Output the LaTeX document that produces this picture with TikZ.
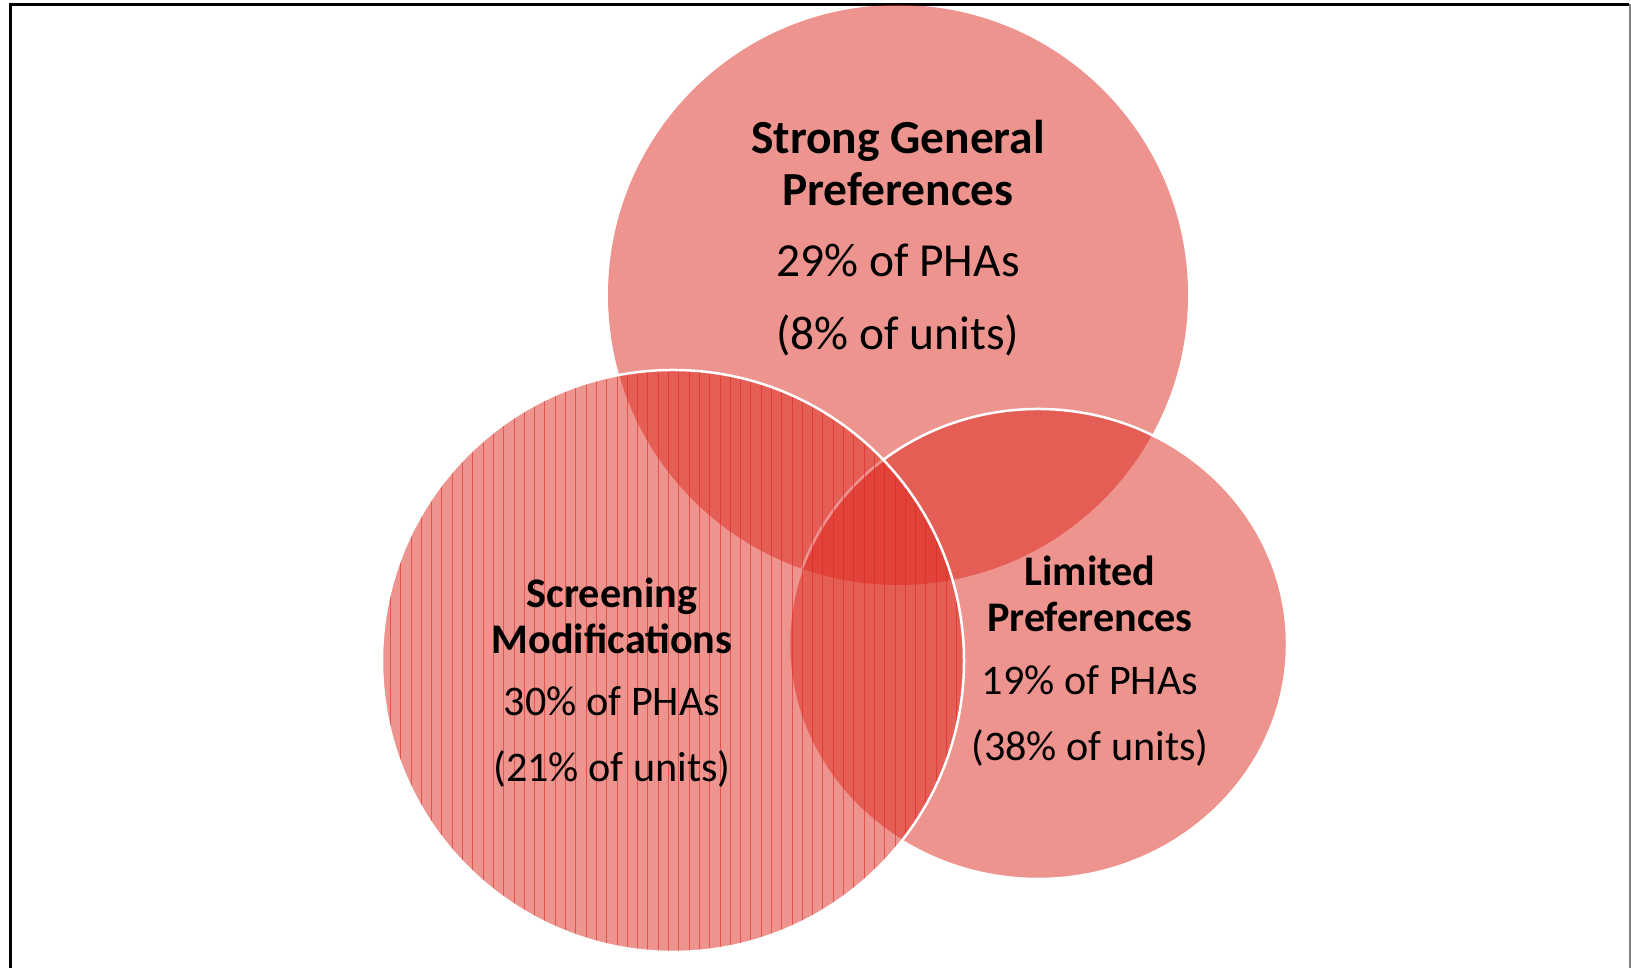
\documentclass[tikz,border=0pt]{standalone}
\usepackage{fontspec}
\setmainfont{Carlito}
\definecolor{vennred}{RGB}{221,41,31}

\begin{document}
\begin{tikzpicture}[
  blob/.style={fill=vennred, fill opacity=0.5},
  rim/.style={draw=white, line width=0.025cm},
  stripe/.style={draw=vennred, draw opacity=0.6, line width=0.01cm},
  bigtitle/.style={font=\fontsize{13.5}{15}\selectfont\bfseries, align=center},
  bigstats/.style={font=\fontsize{13.5}{20.8}\selectfont, align=center},
  title/.style={font=\fontsize{12}{13.1}\selectfont\bfseries, align=center},
  stats/.style={font=\fontsize{12}{18.7}\selectfont, align=center}]

\useasboundingbox (0,0) rectangle (16.31,9.68);

% frame round the figure
\draw[line width=0.03cm] (0.105,0) -- (0.105,9.635) -- (16.29,9.635);
\draw[gray, line width=0.015cm] (16.30,9.635) -- (16.30,0);

% strong general preferences
\fill[blob] (8.98,6.73) circle (2.90);

% limited preferences
\fill[blob] (10.38,3.24) ellipse (2.49 and 2.35);
\draw[rim] (10.38,3.24) ellipse (2.49 and 2.35);

% screening modifications, striped
\fill[blob] (6.73,3.07) circle (2.91);
\begin{scope}
  \clip (6.73,3.07) circle (2.91);
  \foreach \i in {0,...,57}
    \draw[stripe] (3.904+0.103*\i,0) -- (3.904+0.103*\i,6.1);
\end{scope}
\draw[rim] (6.73,3.07) circle (2.91);

\node[bigtitle] (sgp-title) at (8.98,8.05) {Strong General\\Preferences};
\node[bigstats] (sgp-stats) at (8.98,6.68) {29\% of PHAs\\(8\% of units)};

\node[title] (sm-title) at (6.12,3.52) {Screening\\Modifications};
\node[stats] (sm-stats) at (6.12,2.31) {30\% of PHAs\\(21\% of units)};

\node[title] (lp-title) at (10.90,3.74) {Limited\\Preferences};
\node[stats] (lp-stats) at (10.90,2.52) {19\% of PHAs\\(38\% of units)};

\end{tikzpicture}
\end{document}
